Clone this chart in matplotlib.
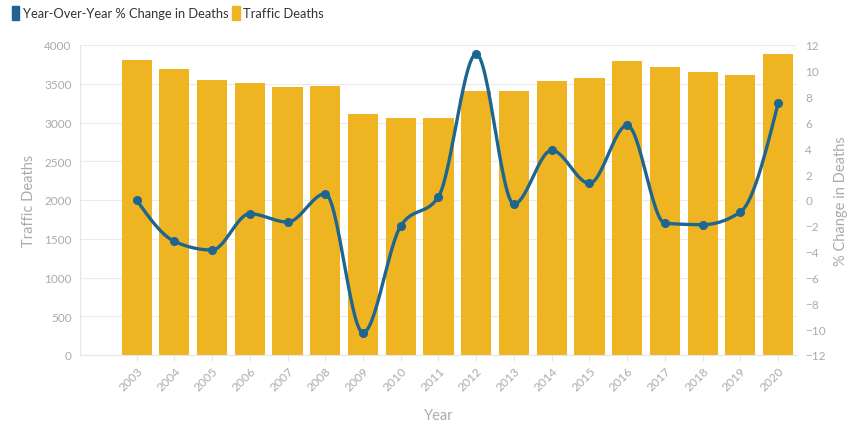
import numpy as np
import matplotlib
matplotlib.use("Agg")
import matplotlib.pyplot as plt
from matplotlib.patches import Patch

years = [2003, 2004, 2005, 2006, 2007, 2008, 2009, 2010, 2011,
         2012, 2013, 2014, 2015, 2016, 2017, 2018, 2019, 2020]
traffic_deaths = [3810, 3690, 3550, 3510, 3454, 3471, 3114, 3054, 3062,
                  3406, 3402, 3532, 3574, 3790, 3720, 3652, 3617, 3888]
pct_change = [0.0, -3.2, -3.87, -1.06, -1.71, 0.49, -10.27, -2.01, 0.26,
              11.3, -0.31, 3.85, 1.29, 5.78, -1.8, -1.91, -0.93, 7.5]

BAR = "#EFB421"
LINE = "#1E6690"
TXT = "#ABABAB"

plt.rcParams['font.family'] = ['Lato', 'DejaVu Sans']

fig = plt.figure(figsize=(8.58, 4.35), dpi=100)
ax = fig.add_axes([80/858, 79/435, 717/858, 310/435])
ax2 = ax.twinx()

x = np.arange(len(years))
ax.bar(x, traffic_deaths, width=0.8, color=BAR, zorder=2)
ax.set_xlim(-1.5, len(years) - 0.5)
ax.set_ylim(0, 4000)
ax.set_yticks(np.arange(0, 4001, 500))
ax.grid(axis='y', color='#EBEBEB', linewidth=0.8, zorder=0)
ax.set_axisbelow(True)
ax.set_xticks(x)
ax.set_xticklabels([str(y) for y in years], rotation=45, ha='right',
                   rotation_mode='anchor', fontsize=8.7, color=TXT)
ax.tick_params(axis='x', length=4, color='#E6E6E6', pad=3)
ax.tick_params(axis='y', length=0, labelsize=8.5, labelcolor=TXT, pad=6)
for s in ['top', 'right']:
    ax.spines[s].set_visible(False)
for s in ['left', 'bottom']:
    ax.spines[s].set_color('#E6E6E6')
    ax.spines[s].set_linewidth(0.8)
ax.set_ylabel('Traffic Deaths', color=TXT, fontsize=10.5, labelpad=6)
ax.set_xlabel('Year', color=TXT, fontsize=10.5, labelpad=11)

# monotone cubic (d3 monotoneX-style) smoothing through the data points
yv = np.array(pct_change, dtype=float)
n = len(yv)
s = np.diff(yv)
m = np.zeros(n)
for i in range(1, n - 1):
    s0, s1 = s[i - 1], s[i]
    p = (s0 + s1) / 2
    m[i] = (np.sign(s0) + np.sign(s1)) * min(abs(s0), abs(s1), 0.5 * abs(p))
m[0] = (3 * s[0] - m[1]) / 2
m[-1] = (3 * s[-1] - m[-2]) / 2
xs, ys = [], []
for i in range(n - 1):
    t = np.linspace(0, 1, 30)
    h00 = 2 * t**3 - 3 * t**2 + 1
    h10 = t**3 - 2 * t**2 + t
    h01 = -2 * t**3 + 3 * t**2
    h11 = t**3 - t**2
    xs.append(x[i] + t)
    ys.append(h00 * yv[i] + h10 * m[i] + h01 * yv[i + 1] + h11 * m[i + 1])
xs = np.concatenate(xs)
ys = np.concatenate(ys)

ax2.plot(xs, ys, color=LINE, linewidth=2.4, zorder=3, solid_capstyle='round')
ax2.plot(x, yv, 'o', color=LINE, markersize=5.5, zorder=4)
ax2.set_ylim(-12, 12)
ax2.set_yticks(np.arange(-12, 13, 2))
ax2.tick_params(axis='y', length=0, labelsize=8.5, labelcolor=TXT, pad=6)
for s_ in ['top', 'right', 'left', 'bottom']:
    ax2.spines[s_].set_visible(False)
ax2.set_ylabel('% Change in Deaths', color=TXT, fontsize=10.5, labelpad=6)

handles = [Patch(facecolor=LINE, edgecolor=LINE, joinstyle='round'),
           Patch(facecolor=BAR, edgecolor=BAR, joinstyle='round')]
labels = ['Year-Over-Year % Change in Deaths', 'Traffic Deaths']
fig.legend(handles, labels, loc='upper left', bbox_to_anchor=(0.0, 1.01),
           ncol=2, frameon=False, handlelength=0.6, handleheight=1.2,
           handletextpad=0.25, columnspacing=0.3, fontsize=9.3,
           labelcolor='#333333')

fig.savefig('out.png', dpi=100)
